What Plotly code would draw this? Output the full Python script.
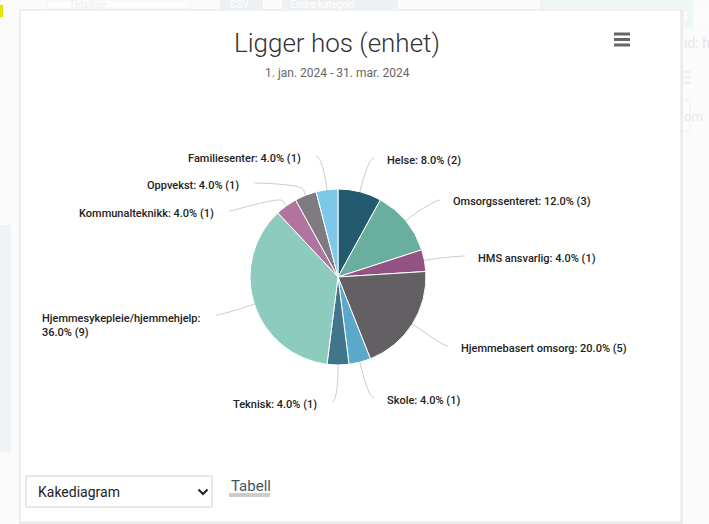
import math
import plotly.graph_objects as go

# ---------------- data ----------------
categories = ["Helse", "Omsorgssenteret", "HMS ansvarlig", "Hjemmebasert omsorg", "Skole",
              "Teknisk", "Hjemmesykepleie/hjemmehjelp", "Kommunalteknikk", "Oppvekst", "Familiesenter"]
counts = [2, 3, 1, 5, 1, 1, 9, 1, 1, 1]
slice_colors = ["#245a6e", "#6aae9f", "#925384", "#636064", "#5aa9ca",
                "#41768a", "#8ccbbd", "#b1749f", "#7f7b80", "#7bc8e8"]
title_text = "Ligger hos (enhet)"
subtitle_text = "1. jan. 2024 - 31. mar. 2024"
select_text = "Kakediagram"
link_text = "Tabell"

# ---------------- layout helpers ----------------
W, H = 709, 524
CX, CY, R = 338, 277, 88


def px(x):
    return x / W


def py(y):
    return 1 - y / H


# label text anchors (layout only)
label_anchor = [
    (385, 160, "left"),
    (451, 202, "left"),
    (476, 258, "left"),
    (459, 348, "left"),
    (385, 400, "left"),
    (319, 404, "right"),
    (203, 325, "right"),
    (216, 213, "right"),
    (241, 185, "right"),
    (303, 158, "right"),
]

FONT = "Roboto, 'Noto Sans', sans-serif"

fig = go.Figure()
fig.add_trace(go.Pie(
    labels=categories,
    values=counts,
    sort=False,
    direction="clockwise",
    rotation=0,
    marker=dict(colors=slice_colors, line=dict(color="white", width=1)),
    textinfo="none",
    hoverinfo="skip",
    showlegend=False,
    domain=dict(x=[px(CX - R), px(CX + R)], y=[py(CY + R), py(CY - R)]),
))

shapes = []
annotations = []


def rect(x0, y0, x1, y1, fill, line=None, lw=1, layer="below"):
    shapes.append(dict(type="rect", xref="paper", yref="paper",
                       x0=px(x0), x1=px(x1), y0=py(y1), y1=py(y0),
                       fillcolor=fill, line=dict(color=line or fill, width=lw if line else 0),
                       layer=layer))


def text(x, y, s, size, color, xanchor="left", weight=None, family=FONT, align="left"):
    f = dict(size=size, color=color, family=family)
    if weight:
        f["weight"] = weight
    annotations.append(dict(x=px(x), y=py(y), xref="paper", yref="paper", text=s,
                            showarrow=False, xanchor=xanchor, yanchor="middle",
                            font=f, align=align))


# ---- faded page behind the card ----
rect(0, 5, 3, 17, "#e4e400")
rect(0, 225, 11, 452, "#eef3f5")
rect(47, 0, 190, 9, "#fdfdfd", line="#f3f3f3")
text(67, 5, "Tidslinje", 10, "#efefef")
rect(220, 0, 263, 9, "#eef1f3")
text(228, 5, "CSV", 10, "#ffffff")
rect(282, 0, 398, 9, "#eef1f3")
text(288, 5, "Endre kategori", 10, "#ffffff")
rect(540, 0, 693, 29, "#eef7f6")
text(682, 15, "r dri", 14, "#ffffff")
text(682, 43, "id: h", 14, "#e6e6e6")
for yy in (72, 77.5, 83):
    shapes.append(dict(type="line", xref="paper", yref="paper", x0=px(672), x1=px(691),
                       y0=py(yy), y1=py(yy), line=dict(color="#f1f1f1", width=3), layer="below"))
rect(655, 100, 690, 131, "#fdfdfd", line="#f1f1f1")
text(682, 116, "om", 13, "#e8e8e8")

# ---- card ----
rect(19, 10, 683, 524, "#eeeeee", layer="below")
rect(20, 10, 681, 522, "#ffffff", line="#e4e4e4", layer="below")

# title & subtitle
text(337, 43, title_text, 26, "#333333", xanchor="center", weight=300)
text(337, 73, subtitle_text, 12, "#666666", xanchor="center")

# hamburger icon
for yy in (34, 39.5, 45):
    shapes.append(dict(type="line", xref="paper", yref="paper", x0=px(614), x1=px(630),
                       y0=py(yy), y1=py(yy), line=dict(color="#666666", width=3)))

# ---- data labels and connectors ----
total = sum(counts)
cum = 0
for cat, n, (tx, ty, side) in zip(categories, counts, label_anchor):
    mid = (cum + n / 2) / total * 2 * math.pi
    cum += n
    sx, sy = math.sin(mid), -math.cos(mid)
    touch = (CX + R * sx, CY + R * sy)
    brk = (CX + (R + 6) * sx, CY + (R + 6) * sy)
    ctrl2 = (2 * brk[0] - touch[0], 2 * brk[1] - touch[1])
    pct = n / total * 100
    multiline = len(cat) > 24
    lbl = f"{cat}:<br>{pct:.1f}% ({n})" if multiline else f"{cat}: {pct:.1f}% ({n})"
    if side == "left":
        ex, ey = tx - 11, ty - 2
        c1 = (ex - 5, ey)
    else:
        ex, ey = tx + 13, (ty - 10 if multiline else ty - 2)
        c1 = (ex + 5, ey)
    path = (f"M {px(ex)},{py(ey)} C {px(c1[0])},{py(c1[1])} {px(ctrl2[0])},{py(ctrl2[1])} "
            f"{px(brk[0])},{py(brk[1])} L {px(touch[0])},{py(touch[1])}")
    shapes.append(dict(type="path", xref="paper", yref="paper", path=path,
                       line=dict(color="#cccccc", width=1)))
    text(tx, ty, lbl, 11, "#222222", xanchor="left" if side == "left" else "right",
         weight=500, align="left")

# ---- bottom controls ----
rect(26, 476, 212, 507, "#ffffff", line="#d2d2d2")
text(36, 492, select_text, 14, "#222222")
shapes.append(dict(type="path", xref="paper", yref="paper",
                   path=f"M {px(198.5)},{py(489.5)} L {px(203)},{py(494)} L {px(207.5)},{py(489.5)}",
                   line=dict(color="#222222", width=2)))
text(229, 486, link_text, 15, "#3f5566")
rect(229, 493, 270, 497, "#cccccc")

fig.update_layout(
    width=W, height=H, autosize=False,
    margin=dict(l=0, r=0, t=0, b=0),
    paper_bgcolor="#fbfbfb",
    plot_bgcolor="#fbfbfb",
    shapes=shapes,
    annotations=annotations,
    showlegend=False,
)

fig.write_html("out.html", include_plotlyjs=True,
               config={"displayModeBar": False},
               post_script="document.body.style.margin='0';document.body.style.overflow='hidden';")
